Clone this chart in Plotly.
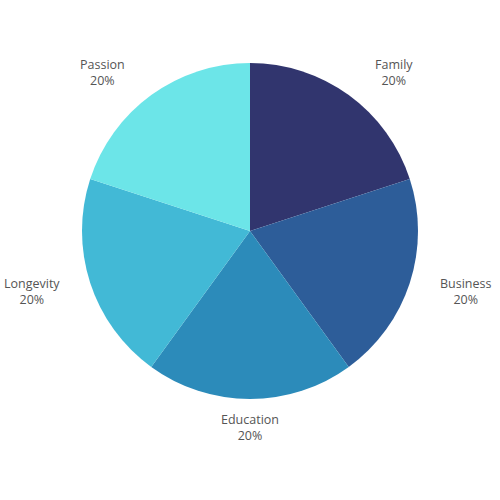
import numpy as np
import plotly.graph_objects as go

labels = ['Family', 'Business', 'Education', 'Longevity', 'Passion']
values = [20, 20, 20, 20, 20]
colors = ['#31356e', '#2d5d99', '#2c8bba', '#42b9d6', '#6ce5e8']

# pie geometry (pixels)
diameter = 336
label_rx = 179
label_ry = 196
label_gap = 18

fig = go.Figure(go.Pie(
    labels=labels,
    values=values,
    sort=False,
    direction='clockwise',
    rotation=0,
    marker=dict(colors=colors, line=dict(width=0)),
    textinfo='none',
    hoverinfo='label+percent',
    showlegend=False,
))

# labels outside the pie, placed at slice mid-angles
vals = np.array(values, dtype=float)
shares = vals / vals.sum()
mids = (np.cumsum(shares) - shares / 2) * 2 * np.pi
for lab, share, a in zip(labels, shares, mids):
    dx = label_rx * np.sin(a)
    dy = label_ry * np.cos(a)
    if dx > 5:
        xa, shift = 'left', label_gap
    elif dx < -5:
        xa, shift = 'right', -label_gap
    else:
        xa, shift = 'center', 0
    fig.add_annotation(
        x=0.5 + dx / diameter, y=0.5 + dy / diameter,
        xref='paper', yref='paper', xshift=shift,
        text=f'{lab}<br>{share:.0%}',
        showarrow=False, xanchor=xa, yanchor='middle',
        font=dict(family='Open Sans', size=12.5, color='#555555'),
    )

fig.update_layout(
    width=500, height=500,
    margin=dict(l=82, r=82, t=63, b=101),
    paper_bgcolor='white',
)

# drop the page's default body margin so the figure sits at the window corner
fig.write_html('out.html', config={'displayModeBar': False},
               post_script="document.body.style.margin='0';")
